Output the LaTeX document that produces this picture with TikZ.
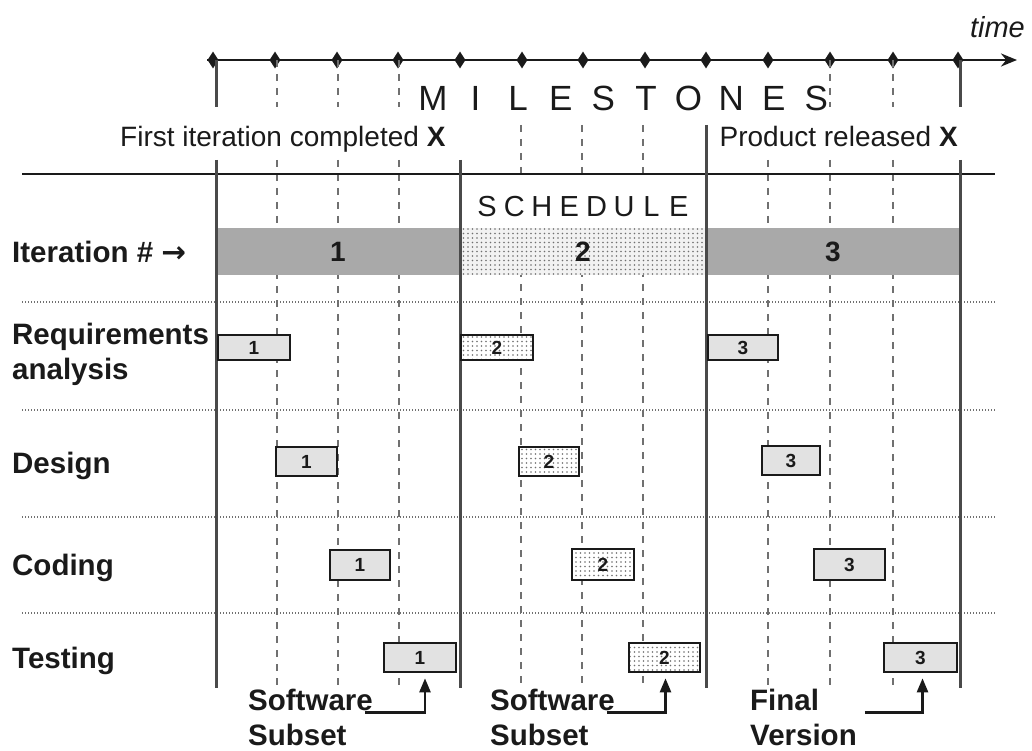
\documentclass[tikz,border=0pt]{standalone}
\usepackage{fontspec}
\setmainfont{Liberation Sans}
\newfontfamily\arrowfont{DejaVu Sans}
\usepackage{tikz}
\usetikzlibrary{shapes.geometric, arrows.meta, positioning, patterns.meta}
\definecolor{ink}{HTML}{1A1A1A}
\definecolor{rule}{HTML}{4A4A4A}
\definecolor{grid}{HTML}{707070}
\definecolor{itershade}{HTML}{A9A9A9}
\definecolor{taskshade}{HTML}{E2E2E2}
\definecolor{dotbg}{HTML}{F2F2F2}
\tikzset{
    axis/.style={line width=2.6pt, color=ink, -{Stealth[length=16pt, width=13pt]}},
    tick/.style={diamond, fill=ink, inner sep=0pt, minimum width=11pt, minimum height=17pt},
    major/.style={line width=3pt, color=rule},
    minor/.style={line width=1.5pt, color=grid, dash pattern=on 7pt off 7pt},
    hrule/.style={line width=2.4pt, color=ink},
    rowsep/.style={line width=1.6pt, color=grid, dash pattern=on 1.2pt off 1.8pt},
    bigletter/.style={font=\fontsize{35}{35}\selectfont, text=ink, inner sep=0pt},
    midletter/.style={font=\fontsize{29}{29}\selectfont, text=ink, inner sep=0pt},
    note/.style={font=\fontsize{28}{34}\selectfont, text=ink, inner sep=0pt},
    rowlabel/.style={font=\fontsize{29.5}{35}\selectfont\bfseries, text=ink, inner sep=0pt, align=left},
    iterbar/.style={inner sep=0pt, minimum height=47pt, font=\fontsize{28}{28}\selectfont\bfseries, text=ink},
    iterplain/.style={iterbar, fill=itershade},
    iterdots/.style={iterbar, preaction={fill=dotbg}, pattern={Dots[distance=4.5pt, radius=0.8pt]}, pattern color=grid},
    task/.style={draw=ink, line width=2.6pt, inner sep=0pt, font=\fontsize{19}{19}\selectfont\bfseries, text=ink},
    taskplain/.style={task, fill=taskshade},
    taskdots/.style={task, preaction={fill=white}, pattern={Dots[distance=4.5pt, radius=0.8pt]}, pattern color=grid},
    arr/.style={-{Triangle[length=14pt, width=11pt]}, line width=2.4pt, color=ink},
}

\begin{document}
\begin{tikzpicture}[x=1pt, y=-1pt]
  \useasboundingbox (0,0) rectangle (1032,751);

  % time axis with milestone ticks
  \draw[axis] (207,60) -- (1017,60);
  \foreach \x [count=\i] in {213,275,337,398,460,522,583,645,706,768,830,893,958}
    \node[tick] (m\i) at (\x,60) {};
  \node[font=\fontsize{29}{29}\selectfont\itshape, text=ink, anchor=base east, inner sep=0pt] (time) at (1025,38) {time};

  % grid lines
  \foreach \x in {216,960} \draw[major] (\x,60) -- (\x,107);
  \foreach \x in {277,338,399,830,893} \draw[minor] (\x,60) -- (\x,107);
  \foreach \x in {521,582,643} \draw[minor] (\x,125) -- (\x,174);
  \foreach \x in {277,338,399,768,830,893} \draw[minor] (\x,160) -- (\x,686);
  \foreach \x in {521,582,643} \draw[minor] (\x,228) -- (\x,686);
  \draw[hrule] (22,174) -- (995,174);
  \foreach \y in {302,410,517,613} \draw[rowsep] (22,\y) -- (995,\y);

  % milestone texts
  \foreach \l [count=\i from 0] in {M,I,L,E,S,T,O,N,E,S}
    \node[bigletter, anchor=base] (ms\i) at ({433+42.6*\i},111) {\l};
  \node[note, anchor=base west] (first) at (120,147) {First iteration completed \textbf{X}};
  \node[note, anchor=base east] (released) at (958,147) {Product released \textbf{X}};

  % schedule header and iteration bar
  \foreach \l [count=\i from 0] in {S,C,H,E,D,U,L,E}
    \node[midletter, anchor=base] (sc\i) at ({487+27.4*\i},217) {\l};
  \node[rowlabel, anchor=base west] (iter) at (12,262) {Iteration \# {\arrowfont\bfseries →}};
  \node[iterplain, minimum width=244pt] (it1) at (338,251.5) {1};
  \node[iterdots, minimum width=246pt] (it2) at (583,251.5) {2};
  \node[iterplain, minimum width=254pt] (it3) at (833,251.5) {3};

  \foreach \x in {216,460,960} \draw[major] (\x,160) -- (\x,688);
  \draw[major] (706,125) -- (706,688);

  % phases
  \node[rowlabel, anchor=north west] (req) at (12,323) {Requirements\\analysis};
  \node[rowlabel, anchor=base west] (des) at (12,473) {Design};
  \node[rowlabel, anchor=base west] (cod) at (12,575) {Coding};
  \node[rowlabel, anchor=base west] (tst) at (12,668) {Testing};

  \node[taskplain, minimum width=72pt, minimum height=25pt] (r1) at (254,347.5) {1};
  \node[taskdots, minimum width=72pt, minimum height=25pt] (r2) at (497,347.5) {2};
  \node[taskplain, minimum width=70pt, minimum height=25pt] (r3) at (743,347.5) {3};

  \node[taskplain, minimum width=61pt, minimum height=29pt] (d1) at (306.5,461.5) {1};
  \node[taskdots, minimum width=60pt, minimum height=29pt] (d2) at (549,461.5) {2};
  \node[taskplain, minimum width=58pt, minimum height=29pt] (d3) at (791,460.5) {3};

  \node[taskplain, minimum width=60pt, minimum height=30pt] (c1) at (360,565) {1};
  \node[taskdots, minimum width=62pt, minimum height=31pt] (c2) at (603,564.5) {2};
  \node[taskplain, minimum width=71pt, minimum height=31pt] (c3) at (849.5,564.5) {3};

  \node[taskplain, minimum width=72pt, minimum height=29pt] (t1) at (420,657.5) {1};
  \node[taskdots, minimum width=71pt, minimum height=29pt] (t2) at (664.5,657.5) {2};
  \node[taskplain, minimum width=73pt, minimum height=29pt] (t3) at (920.5,657.5) {3};

  % deliveries
  \node[rowlabel, anchor=north west] (sub1) at (248,689) {Software\\Subset};
  \node[rowlabel, anchor=north west] (sub2) at (490,689) {Software\\Subset};
  \node[rowlabel, anchor=north west] (final) at (750,689) {Final\\Version};

  \draw[arr, shorten >=5pt] ([xshift=-8pt, yshift=5pt]sub1.east) -| ([xshift=5pt]t1.south);
  \draw[arr, shorten >=5pt] ([xshift=-8pt, yshift=5pt]sub2.east) -| ([xshift=1pt]t2.south);
  \draw[arr, shorten >=5pt] ([xshift=8pt, yshift=5pt]final.east) -| ([xshift=2pt]t3.south);

\end{tikzpicture}
\end{document}
